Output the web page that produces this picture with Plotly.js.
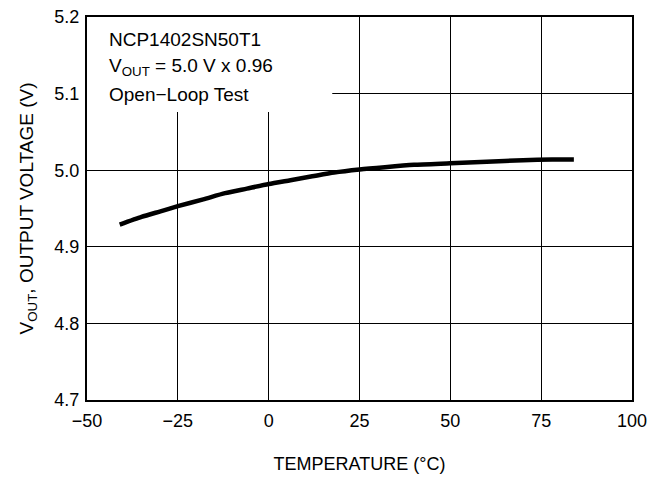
<!DOCTYPE html>
<html>
<head>
<meta charset="utf-8">
<script src="https://cdn.plot.ly/plotly-3.0.1.min.js"></script>
<style>html,body{margin:0;padding:0;background:#fff;}#chart{width:656px;height:479px;}</style>
</head>
<body>
<div id="chart"></div>
<script>
const temperature = [-41, -35, -30, -25, -18, -12, -6, 0, 6, 12, 18, 25, 32, 40, 50, 60, 70, 78, 84];
const vout = [4.929, 4.939, 4.946, 4.953, 4.962, 4.970, 4.976, 4.982, 4.987, 4.992, 4.997, 5.001, 5.004, 5.007, 5.009, 5.011, 5.013, 5.014, 5.014];
const xTicks = [-50, -25, 0, 25, 50, 75, 100];
const yTicks = [4.7, 4.8, 4.9, 5.0, 5.1, 5.2];
const yTickText = ['4.7', '4.8', '4.9', '5.0', '5.1', '5.2'];
const noteLines = ['NCP1402SN50T1', 'V<sub>OUT</sub> = 5.0 V x 0.96', 'Open\u2212Loop Test'];

const font = 'Liberation Sans, Arial, sans-serif';

// vertical placement of note lines (pixels from top of plot area)
const lineTop = 23, lineGap = 27, plotH = 383;
const annotations = noteLines.map((t, i) => ({
  xref: 'x', yref: 'paper', x: -44.5, y: 1 - (lineTop + i * lineGap) / plotH,
  xanchor: 'left', yanchor: 'middle', text: t, align: 'left', showarrow: false,
  font: {size: 19, family: font, color: '#000'}
}));

Plotly.newPlot('chart', [{
  x: temperature, y: vout, type: 'scatter', mode: 'lines',
  line: {color: '#000', width: 4.5, shape: 'spline', smoothing: 0.6},
  hoverinfo: 'skip'
}], {
  width: 656, height: 479,
  margin: {l: 87, r: 24, t: 17, b: 79},
  paper_bgcolor: '#fff', plot_bgcolor: '#fff',
  showlegend: false,
  font: {family: font, color: '#000', size: 18},
  xaxis: {
    range: [-50, 100], tickvals: xTicks, showgrid: true, gridcolor: '#000', gridwidth: 1,
    zeroline: false, showline: true, linecolor: '#000', linewidth: 2, mirror: true,
    ticks: '', tickfont: {size: 18, family: font}, ticklabelstandoff: 3,
    title: {text: 'TEMPERATURE (°C)', font: {size: 18, family: font}, standoff: 28}
  },
  yaxis: {
    range: [4.7, 5.2], tickvals: yTicks, ticktext: yTickText, showgrid: true, gridcolor: '#000', gridwidth: 1,
    zeroline: false, showline: true, linecolor: '#000', linewidth: 2, mirror: true,
    ticks: '', tickfont: {size: 18, family: font}, ticklabelstandoff: 2,
    title: {text: 'V<sub>OUT</sub>, OUTPUT VOLTAGE (V)', font: {size: 19, family: font}, standoff: 16}
  },
  shapes: [{
    type: 'rect', xref: 'x', yref: 'y', x0: -50, x1: 17.5, y0: 5.076, y1: 5.2,
    fillcolor: '#fff', line: {width: 0}, layer: 'between'
  }],
  annotations: annotations
}, {displayModeBar: false, staticPlot: true});
</script>
</body>
</html>
